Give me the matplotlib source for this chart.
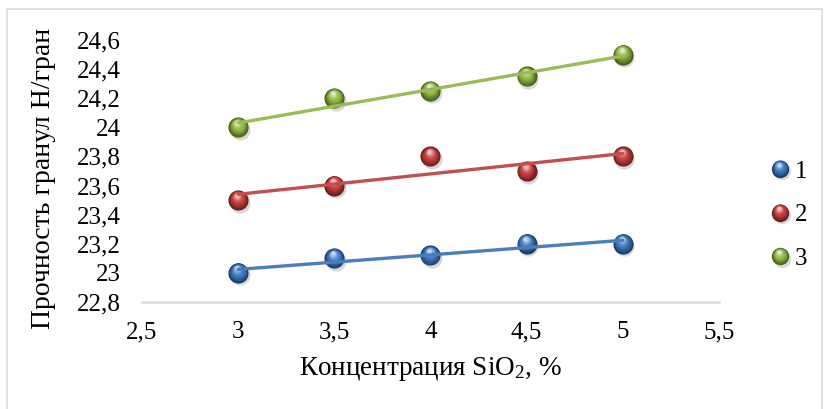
import numpy as np
import matplotlib
matplotlib.use("Agg")
import matplotlib.pyplot as plt
from matplotlib.colors import to_rgb
from matplotlib.transforms import offset_copy
from matplotlib.legend_handler import HandlerBase
from matplotlib.lines import Line2D
from matplotlib.patches import Rectangle

plt.rcParams["font.family"] = ["Liberation Serif", "DejaVu Serif"]
plt.rcParams["mathtext.fontset"] = "custom"
plt.rcParams["mathtext.rm"] = "Liberation Serif"
plt.rcParams["mathtext.it"] = "Liberation Serif:italic"

# SiO2 concentration, %
conc = [3, 3.5, 4, 4.5, 5]
# granule strength, N/granule
series_1 = [23.0, 23.1, 23.12, 23.2, 23.2]
series_2 = [23.5, 23.6, 23.8, 23.7, 23.8]
series_3 = [24.0, 24.2, 24.25, 24.35, 24.5]
series_names = ["1", "2", "3"]
ball_colors = ["#3C7AC4", "#C83E3C", "#8CB83E"]
line_colors = ["#4A7EBB", "#C0504D", "#9BBB59"]

x_ticks = [2.5, 3, 3.5, 4, 4.5, 5, 5.5]
y_ticks = [22.8, 23.0, 23.2, 23.4, 23.6, 23.8, 24.0, 24.2, 24.4, 24.6]


def fmt(v):
    s = ("%.1f" % v).rstrip("0").rstrip(".")
    return s.replace(".", ",")


def sphere_layers(color, size):
    """Stacked circles giving a glossy ball look: shadow, dark rim, body, highlight."""
    base = np.array(to_rgb(color))
    dark = base * 0.5
    light = base + (1 - base) * 0.7
    layers = [(1.2, -1.8, size * 1.0, (0.5, 0.5, 0.5), 0.3)]
    n = 12
    for i in range(n):
        t = i / (n - 1)
        if t < 0.5:
            c = dark + (base - dark) * (t / 0.5)
        else:
            c = base + (light - base) * ((t - 0.5) / 0.5) ** 1.5
        ms = size * (1 - 0.8 * t)
        dx = -0.06 * size * t
        dy = 0.24 * size * t
        layers.append((dx, dy, ms, tuple(np.clip(c, 0, 1)), 1.0))
    return layers


class SphereHandler(HandlerBase):
    def __init__(self, color, size):
        super().__init__()
        self.color = color
        self.size = size

    def create_artists(self, legend, orig_handle, xdescent, ydescent,
                       width, height, fontsize, trans):
        cx = width / 2 - xdescent
        cy = height / 2 - ydescent
        arts = []
        for dx, dy, ms, c, a in sphere_layers(self.color, self.size):
            ln = Line2D([cx + dx], [cy + dy], marker="o", ms=ms, color=c,
                        mec="none", alpha=a, linestyle="none")
            ln.set_transform(trans)
            arts.append(ln)
        return arts


fig = plt.figure(figsize=(8.25, 4.09), dpi=100)
ax = fig.add_axes([142 / 825, 1 - 302 / 409, (719 - 142) / 825, (302 - 40) / 409])

marker_size = 14.5
all_series = [series_1, series_2, series_3]
handles = []
for vals, name, bc, lc in zip(all_series, series_names, ball_colors, line_colors):
    for k, (dx, dy, ms, c, a) in enumerate(sphere_layers(bc, marker_size)):
        tr = offset_copy(ax.transData, fig=fig, x=dx, y=dy, units="points")
        ax.plot(conc, vals, "o", ms=ms, color=c, mec="none", alpha=a,
                transform=tr, zorder=3 + k * 0.01, clip_on=False)
    slope, icpt = np.polyfit(conc, vals, 1)
    xs = np.array([conc[0], conc[-1]])
    ax.plot(xs, slope * xs + icpt, color=lc, lw=2.4, zorder=5,
            solid_capstyle="round")
    handles.append(Line2D([], [], label=name))

ax.set_xlim(2.5, 5.5)
ax.set_ylim(22.8, 24.6)
ax.set_xticks(x_ticks)
ax.set_xticklabels([fmt(v) for v in x_ticks])
ax.set_yticks(y_ticks)
ax.set_yticklabels([fmt(v) for v in y_ticks])
ax.tick_params(axis="both", length=0, labelsize=18, colors="black")
ax.tick_params(axis="x", pad=14)
ax.tick_params(axis="y", pad=15)
for side in ["top", "right", "left"]:
    ax.spines[side].set_visible(False)
ax.spines["bottom"].set_color("#D9D9D9")
ax.spines["bottom"].set_linewidth(1.8)

ax.set_xlabel("Концентрация SiO$_2$, %", fontsize=19.5, labelpad=8)
ax.set_ylabel("Прочность гранул Н/гран", fontsize=20, va="center")
ax.yaxis.set_label_coords(-0.17, 0.47)

leg = ax.legend(handles=handles,
                handler_map={h: SphereHandler(c, 12.5)
                             for h, c in zip(handles, ball_colors)},
                loc="center left", bbox_to_anchor=(750 / 825, 1 - 215 / 409),
                bbox_transform=fig.transFigure, frameon=False, fontsize=18,
                handlelength=0.8, handletextpad=0.2, labelspacing=0.85,
                borderpad=0.3)

fig.patches.append(Rectangle((7 / 825, -0.05), (822 - 7) / 825, 1 - 9 / 409 + 0.05,
                             transform=fig.transFigure, fill=False,
                             edgecolor="#D9D9D9", lw=1.2))

fig.savefig("out.png", dpi=100)
